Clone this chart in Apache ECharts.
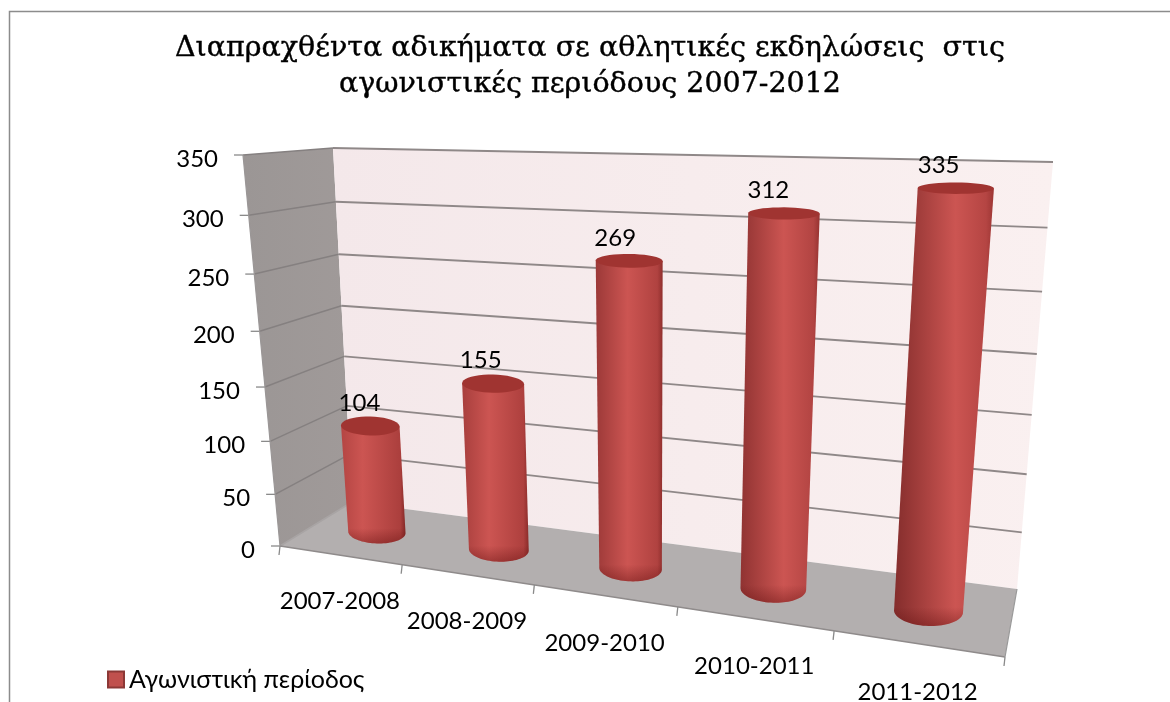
<!DOCTYPE html>
<html><head><meta charset="utf-8">
<style>html,body{margin:0;padding:0;background:#fff}#c{width:1170px;height:702px}</style>
<script src="https://cdn.jsdelivr.net/npm/echarts@6/dist/echarts.min.js"></script></head>
<body><div id="c"></div>
<script>
const categories = ['2007-2008','2008-2009','2009-2010','2010-2011','2011-2012'];
const offences = [104,155,269,312,335];
const yTicks = [0,50,100,150,200,250,300,350];
const seriesName = 'Αγωνιστική περίοδος';
const titleText = 'Διαπραχθέντα αδικήματα σε αθλητικές εκδηλώσεις  στις\nαγωνιστικές περιόδους 2007-2012';

// Perspective view of the plot box: corners of the front and back planes
function squareToQuad(p){
  const [p0,p1,p2,p3]=p;
  const dx1=p1[0]-p2[0],dx2=p3[0]-p2[0],sx=p0[0]-p1[0]+p2[0]-p3[0];
  const dy1=p1[1]-p2[1],dy2=p3[1]-p2[1],sy=p0[1]-p1[1]+p2[1]-p3[1];
  const den=dx1*dy2-dx2*dy1;
  const g=(sx*dy2-dx2*sy)/den,h=(dx1*sy-sx*dy1)/den;
  const a=p1[0]-p0[0]+g*p1[0],b=p3[0]-p0[0]+h*p3[0],c=p0[0];
  const d=p1[1]-p0[1]+g*p1[1],e=p3[1]-p0[1]+h*p3[1],f=p0[1];
  return (u,v)=>{const q=g*u+h*v+1;return [(a*u+b*v+c)/q,(d*u+e*v+f)/q];};
}
const frontPlane=squareToQuad([[280,546],[1005,657],[1045,177],[243,155]]);
const backPlane=squareToQuad([[352,502],[1017,589],[1053,162],[333,148]]);
function project(u,v,w){
  const a=frontPlane(u,v),b=backPlane(u,v);
  return [a[0]+(b[0]-a[0])*w,a[1]+(b[1]-a[1])*w];
}
const R_U=0.0425, R_W=0.19, R_MIN=2.5, DEPTH=0.5, TILT=0.2;
const FONT='Lato, "Open Sans", sans-serif';
const TEXT_SIZE=24;

function unit(api,params,cat,val){
  const r=params.coordSys;
  const pt=api.coord([cat,val]);
  return [(pt[0]-r.x)/r.width, 1-(pt[1]-r.y)/r.height];
}
function line(a,b,color,width){
  return {type:'line',shape:{x1:a[0],y1:a[1],x2:b[0],y2:b[1]},style:{stroke:color,lineWidth:width},silent:true};
}
function poly(points,fill){
  return {type:'polygon',shape:{points},style:{fill},silent:true};
}
function renderBox(params,api){
  const ch=[];
  const n=categories.length;
  ch.push(poly([project(0,0,0),project(0,1,0),project(0,1,1),project(0,0,1)],
    {type:'linear',x:0,y:0,x2:1,y2:0,colorStops:[{offset:0,color:'#9b9695'},{offset:1,color:'#a09a99'}]}));
  ch.push(poly([project(0,0,1),project(0,1,1),project(1,1,1),project(1,0,1)],
    {type:'linear',x:0,y:0,x2:1,y2:0,colorStops:[{offset:0,color:'#f4e8ea'},{offset:1,color:'#faf0f0'}]}));
  ch.push(poly([project(0,0,0),project(0,0,1),project(1,0,1),project(1,0,0)],'#b3afaf'));
  yTicks.forEach(t=>{
    const v=unit(api,params,0,t)[1];
    if(t>0) ch.push(line(project(0,v,1),project(1,v,1),'#8f8888',1.9));
    ch.push(line(project(0,v,0),project(0,v,1),t===0?'#a8a4a4':'#858080',1.5));
    const f=project(0,v,0);
    ch.push(line([f[0]-9,f[1]],f,'#8a8a8a',1.3));
    ch.push({type:'text',x:f[0]-25,y:f[1]+4,style:{text:String(t),fill:'#000',font:TEXT_SIZE+'px '+FONT,textAlign:'right',textVerticalAlign:'middle'},silent:true});
  });
  ch.push(line(project(0,0,0),project(1,0,0),'#8f8b8b',1.4));
  ch.push(line(project(0,0,0),project(0,1,0),'#9a9696',1.2));
  ch.push(line(project(1,0,0),project(1,0,1),'#999',1.2));
  for(let i=0;i<=n;i++){
    const p=project(i/n,0,0);
    ch.push(line(p,[p[0]-1,p[1]+9],'#8a8a8a',1.3));
  }
  categories.forEach((c,i)=>{
    const u=(i+0.5)/n, p=project(u,0,0);
    ch.push({type:'text',x:p[0],y:p[1]+46+3*u,style:{text:c,fill:'#000',font:TEXT_SIZE+'px '+FONT,textAlign:'center',textVerticalAlign:'middle'},silent:true});
  });
  return {type:'group',children:ch};
}
function mix(a,b,t){
  return 'rgb('+a.map((x,i)=>Math.round(x+(b[i]-x)*t)).join(',')+')';
}
function ellipsePts(u,v,a0,a1){
  const radius=R_U*(1.16-0.18*u);
  const c0=project(u,v,DEPTH), r=project(u+radius,v,DEPTH), l=project(u-radius,v,DEPTH);
  const c=[(r[0]+l[0])/2+3*(1-u),c0[1]];
  const ex=(r[0]-l[0])/2, ey=(r[1]-l[1])/2*TILT;
  const dy=Math.abs(project(u,v,0)[1]-project(u,v,1)[1]);
  const ry=R_W*dy+R_MIN;
  const out=[];
  for(let k=0;k<=40;k++){
    const t=a0+(a1-a0)*k/40;
    out.push([c[0]+ex*Math.cos(t),c[1]+ey*Math.cos(t)+ry*Math.sin(t)]);
  }
  return {pts:out,c,ry};
}
function renderCylinder(params,api){
  const cat=api.value(0),val=api.value(1);
  const u=unit(api,params,cat,0)[0], v=unit(api,params,cat,val)[1];
  const top=ellipsePts(u,v,0,2*Math.PI);
  const base=ellipsePts(u,0,0,Math.PI);
  const topR=top.pts[0], topL=top.pts[20];
  const body=[topL,topR].concat(base.pts);
  const xs=body.map(p=>p[0]);
  const minX=Math.min(...xs),maxX=Math.max(...xs);
  const peak=0.3+0.35*u;
  const fill={type:'linear',x:minX,y:0,x2:maxX,y2:0,global:true,colorStops:[
    {offset:0,color:mix([186,72,70],[126,42,41],u)},
    {offset:peak,color:'#cc5552'},
    {offset:0.92,color:mix([170,62,60],[182,70,68],u)},
    {offset:1,color:mix([128,38,36],[160,56,54],u)}]};
  const by=base.c[1];
  const shade={type:'linear',x:0,y:by-4,x2:0,y2:by+base.ry,global:true,colorStops:[
    {offset:0,color:'rgba(90,10,10,0)'},{offset:1,color:'rgba(90,10,10,0.38)'}]};
  return {type:'group',children:[
    {type:'polygon',shape:{points:body},style:{fill},silent:true},
    {type:'polygon',shape:{points:body},style:{fill:shade},silent:true},
    {type:'polygon',shape:{points:top.pts},style:{fill:'#a03431'},silent:true},
    {type:'text',x:top.c[0]-10-8*u,y:top.c[1]-23,style:{text:String(val),fill:'#000',font:TEXT_SIZE+'px '+FONT,textAlign:'center',textVerticalAlign:'middle'},silent:true}
  ]};
}
const chart=echarts.init(document.getElementById('c'),null,{renderer:'canvas'});
chart.setOption({
  animation:false,
  backgroundColor:'#fff',
  title:{text:titleText,left:585,top:26,textAlign:'center',
    textStyle:{fontFamily:'"DejaVu Serif", serif',fontSize:28.5,fontWeight:'normal',color:'#000',lineHeight:36,textBorderColor:'#000',textBorderWidth:0.4}},
  legend:{data:[seriesName],left:107,top:667,padding:0,icon:'rect',itemWidth:16,itemHeight:16,itemGap:6,selectedMode:false,
    textStyle:{fontFamily:FONT,fontSize:25,color:'#000'}},
  graphic:[{type:'polyline',shape:{points:[[9.5,702],[9.5,11.5],[1170,11.5]]},style:{stroke:'#8c8c8c',lineWidth:1.5,fill:null},silent:true}],
  grid:{left:240,right:120,top:150,bottom:150},
  xAxis:{type:'category',data:categories,show:false},
  yAxis:{type:'value',min:0,max:350,interval:50,show:false},
  series:[
    {type:'custom',name:'box',coordinateSystem:'cartesian2d',data:[[0,0]],renderItem:renderBox,silent:true,z:1,clip:false},
    {type:'custom',name:seriesName,coordinateSystem:'cartesian2d',
      data:offences.map((v,i)=>[i,v]),encode:{x:0,y:1},renderItem:renderCylinder,silent:true,z:2,clip:false,
      itemStyle:{color:'#c0504d',borderColor:'#8c3836',borderWidth:1}}
  ]
});
</script></body></html>
